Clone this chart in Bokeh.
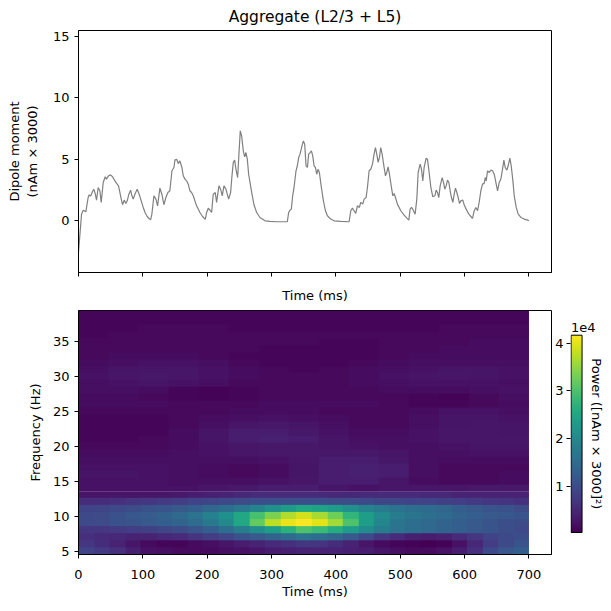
import numpy as np
from bokeh.plotting import figure
from bokeh.layouts import column, row
from bokeh.models import LinearColorMapper, Range1d, FixedTicker, Label
from bokeh.palettes import Viridis256
from bokeh.embed import file_html
from bokeh.resources import INLINE

FONT = "DejaVu Sans"

# aggregate dipole trace (ms, nAm x 3000)
t_ms = [0, 3.1, 4.7, 7.3, 11.4, 15.0, 16.6, 18.7, 21.8, 23.8, 25.9, 28.0, 30.6, 33.2, 35.3,
        38.4, 41.5, 43.5, 46.7, 49.8, 52.9, 55.0, 58.1, 60.1, 62.2, 64.3, 66.4, 68.4, 71.0,
        73.6, 75.7, 78.3, 80.9, 83.0, 85.0, 88.1, 91.2, 94.3, 97.5, 100.6, 103.7, 106.8,
        109.9, 112.0, 114.0, 117.2, 120.3, 122.9, 126.5, 129.6, 132.7, 135.8, 138.9, 142.0,
        145.2, 148.3, 149.8, 152.4, 155.0, 157.6, 160.7, 162.8, 165.4, 168.0, 170.6, 173.1,
        175.7, 178.3, 183.5, 188.7, 192.8, 197.0, 199.1, 201.7, 204.3, 206.8, 209.4, 212.5,
        214.6, 218.2, 220.8, 223.4, 226.0, 229.1, 233.3, 236.4, 238.5, 240.5, 242.6, 244.7,
        247.3, 249.3, 251.4, 253.5, 256.1, 258.2, 260.2, 262.3, 264.4, 266.5, 269.6, 272.7,
        276.8, 282.0, 289.8, 297.6, 307.9, 324.5, 326.6, 328.7, 330.7, 332.8, 334.9, 338.0,
        340.1, 342.1, 344.2, 347.3, 349.4, 351.5, 353.6, 355.7, 357.7, 359.8, 361.9, 364.0,
        366.0, 368.1, 370.2, 372.3, 374.3, 377.4, 380.6, 383.7, 386.8, 392.0, 397.1, 407.5,
        420.5, 423.1, 425.7, 428.2, 430.8, 433.4, 436.5, 438.6, 441.7, 443.8, 446.9, 449.0,
        451.6, 454.2, 456.8, 459.3, 461.4, 463.5, 465.6, 467.6, 469.7, 471.8, 474.9, 477.0,
        479.0, 481.1, 483.2, 486.3, 488.4, 490.5, 492.5, 495.6, 500.8, 506.0, 510.2, 513.3,
        515.3, 517.4, 519.5, 523.1, 525.7, 527.8, 530.9, 533.0, 535.0, 537.1, 540.2, 542.3,
        544.9, 547.5, 550.6, 553.7, 555.8, 557.8, 559.9, 562.0, 565.1, 567.2, 569.2, 571.3,
        573.4, 575.5, 577.5, 579.6, 581.7, 583.8, 585.8, 587.9, 590.0, 592.1, 594.1, 597.2,
        599.3, 602.4, 606.6, 609.7, 612.3, 614.9, 617.5, 620.1, 622.6, 625.2, 627.8, 630.4,
        632.0, 633.5, 635.6, 638.2, 640.8, 643.4, 646.0, 649.1, 651.2, 653.8, 656.3, 658.9,
        661.0, 663.1, 665.7, 667.7, 670.3, 672.4, 675.0, 677.1, 680.2, 683.3, 687.4, 692.6,
        697.8, 700.0]
dipole = [-2.6, -0.57, 0.51, 0.84, 0.70, 1.87, 2.09, 1.98, 2.36, 2.55, 2.20, 1.66, 2.69, 2.42, 1.47,
          3.10, 3.56, 3.37, 3.64, 3.72, 3.56, 3.37, 3.10, 2.96, 2.82, 2.28, 1.74, 1.28, 1.66,
          1.38, 1.60, 2.14, 2.47, 2.01, 1.74, 2.20, 2.55, 2.14, 1.60, 1.06, 0.60, 0.32,
          0.13, 0.05, 0.51, 2.01, 1.74, 1.19, 2.63, 2.14, 1.28, 1.87, 2.28, 2.42,
          4.05, 4.32, 4.92, 5.00, 4.64, 4.86, 4.32, 3.64, 3.37, 3.23, 2.96, 2.42,
          2.28, 2.01, 1.19, 0.65, 0.32, 0.08, 0.65, 1.00, 0.84, 0.65, 2.14, 2.28,
          1.47, 2.82, 2.55, 2.01, 2.82, 2.55, 1.74, 2.28, 3.64, 4.72, 4.92, 4.18,
          3.50, 5.41, 7.31, 6.90, 5.68, 5.19, 5.54, 5.00, 3.77, 3.10, 2.14, 1.28,
          0.65, 0.24, -0.03, -0.08, -0.11, -0.11, 0.65, 0.84, 0.92, 2.01, 2.69, 4.05,
          4.46, 5.13, 5.41, 6.08, 6.49, 6.22, 4.46, 4.32, 5.41, 5.54, 5.68, 5.27,
          4.46, 4.32, 3.77, 4.18, 3.91, 2.69, 1.60, 0.79, 0.38, 0.11, -0.03, -0.08,
          -0.11, 0.79, 1.00, 0.79, 0.57, 1.19, 1.06, 1.47, 1.33, 1.74, 1.87, 2.69,
          4.05, 4.18, 4.59, 5.41, 5.95, 5.41, 4.73, 5.13, 5.95, 5.41, 4.32, 3.64,
          3.91, 4.37, 3.77, 2.69, 2.01, 2.20, 1.87, 1.33, 0.79, 0.43, 0.19, 0.03,
          0.92, 1.06, 0.92, 0.51, 1.74, 3.91, 4.59, 4.18, 3.23, 4.32, 5.08, 5.00,
          3.91, 2.69, 1.93, 2.01, 2.47, 2.28, 1.87, 2.82, 3.50, 3.10, 2.55, 2.82,
          3.29, 3.10, 2.42, 1.87, 1.47, 2.14, 2.63, 2.28, 1.87, 1.38, 1.60, 1.66,
          1.28, 0.92, 0.51, 0.32, 0.16, 0.79, 1.06, 0.79, 1.47, 2.42, 2.96, 3.02,
          3.50, 3.23, 4.05, 3.91, 4.10, 4.05, 3.77, 2.96, 2.42, 3.10, 3.37, 4.18,
          4.92, 4.32, 4.10, 4.46, 5.08, 4.46, 3.23, 2.01, 1.06, 0.51, 0.24, 0.11,
          0.03, -0.03]

# spectrogram, power in units of 1e4 (nAm x 3000)^2, one row per frequency
# 5-13 Hz read every 25 ms (the bright alpha band), 14-39 Hz every 50 ms
low_freqs = list(range(5, 14))
power_low = [
    [0.86, 0.73, 0.61, 0.40, 0.24, 0.20, 0.15, 0.15, 0.15, 0.20, 0.24, 0.28, 0.36, 0.40, 0.44,
     0.44, 0.44, 0.40, 0.36, 0.28, 0.20, 0.15, 0.15, 0.24, 0.36, 0.61, 0.94, 1.15, 1.27],  # 5 Hz
    [0.69, 0.57, 0.44, 0.28, 0.15, 0.11, 0.11, 0.15, 0.20, 0.28, 0.36, 0.44, 0.53, 0.61, 0.69,
     0.65, 0.57, 0.44, 0.28, 0.15, 0.11, 0.07, 0.03, 0.07, 0.24, 0.49, 0.78, 0.94, 1.11],  # 6
    [0.61, 0.53, 0.49, 0.44, 0.44, 0.49, 0.53, 0.65, 0.78, 0.90, 1.07, 1.19, 1.35, 1.48, 1.60,
     1.52, 1.40, 1.19, 0.94, 0.69, 0.53, 0.40, 0.36, 0.40, 0.53, 0.69, 0.86, 0.94, 1.02],  # 7
    [0.69, 0.69, 0.73, 0.78, 0.82, 0.90, 0.98, 1.11, 1.27, 1.52, 1.77, 2.06, 2.35, 2.68, 3.01,
     2.85, 2.60, 2.31, 2.02, 1.77, 1.60, 1.52, 1.44, 1.35, 1.27, 1.19, 1.11, 1.02, 0.94],  # 8
    [0.94, 0.98, 1.07, 1.11, 1.19, 1.27, 1.35, 1.48, 1.69, 1.98, 2.51, 3.18, 3.76, 4.05, 4.17,
     4.00, 3.59, 3.01, 2.35, 1.93, 1.64, 1.52, 1.44, 1.35, 1.27, 1.19, 1.11, 1.02, 0.98],  # 9
    [0.94, 0.98, 1.07, 1.15, 1.23, 1.31, 1.44, 1.60, 1.85, 2.10, 2.51, 2.97, 3.34, 3.67, 3.88,
     3.63, 3.26, 2.76, 2.35, 2.02, 1.77, 1.64, 1.56, 1.48, 1.35, 1.27, 1.19, 1.15, 1.11],  # 10
    [0.86, 0.90, 0.94, 0.98, 1.07, 1.11, 1.19, 1.27, 1.40, 1.52, 1.69, 1.89, 2.10, 2.31, 2.51,
     2.43, 2.31, 2.10, 1.89, 1.73, 1.60, 1.52, 1.48, 1.40, 1.27, 1.19, 1.11, 1.07, 0.98],  # 11
    [0.57, 0.57, 0.61, 0.65, 0.69, 0.73, 0.78, 0.86, 0.90, 0.94, 0.98, 1.02, 1.02, 1.02, 1.02,
     1.02, 0.98, 0.98, 0.94, 0.90, 0.90, 0.86, 0.86, 0.82, 0.78, 0.73, 0.69, 0.65, 0.61],  # 12
    [0.28, 0.28, 0.28, 0.28, 0.28, 0.28, 0.32, 0.36, 0.40, 0.44, 0.49, 0.53, 0.53, 0.53, 0.53,
     0.53, 0.49, 0.49, 0.53, 0.53, 0.53, 0.53, 0.49, 0.49, 0.44, 0.44, 0.44, 0.44, 0.44],  # 13
]
high_freqs = list(range(14, 40))
power_high = [
    [0.24, 0.24, 0.24, 0.24, 0.28, 0.32, 0.36, 0.36, 0.28, 0.24, 0.28, 0.28, 0.28, 0.32, 0.32],  # 14
    [0.24, 0.24, 0.24, 0.20, 0.20, 0.20, 0.24, 0.28, 0.34, 0.34, 0.28, 0.17, 0.13, 0.13, 0.17],  # 15
    [0.26, 0.26, 0.23, 0.20, 0.17, 0.13, 0.17, 0.26, 0.34, 0.40, 0.34, 0.20, 0.13, 0.13, 0.17],  # 16
    [0.23, 0.23, 0.23, 0.20, 0.17, 0.13, 0.17, 0.26, 0.34, 0.40, 0.34, 0.20, 0.13, 0.13, 0.13],  # 17
    [0.20, 0.20, 0.20, 0.20, 0.20, 0.20, 0.23, 0.28, 0.34, 0.36, 0.30, 0.20, 0.17, 0.17, 0.17],  # 18
    [0.17, 0.17, 0.17, 0.20, 0.23, 0.28, 0.30, 0.30, 0.30, 0.30, 0.26, 0.20, 0.20, 0.23, 0.23],  # 19
    [0.13, 0.13, 0.13, 0.17, 0.23, 0.28, 0.30, 0.30, 0.26, 0.23, 0.20, 0.20, 0.23, 0.26, 0.26],  # 20
    [0.10, 0.10, 0.13, 0.17, 0.26, 0.34, 0.40, 0.34, 0.26, 0.20, 0.20, 0.23, 0.28, 0.28, 0.28],  # 21
    [0.10, 0.10, 0.10, 0.17, 0.26, 0.34, 0.36, 0.30, 0.23, 0.17, 0.17, 0.23, 0.28, 0.28, 0.26],  # 22
    [0.10, 0.10, 0.10, 0.13, 0.20, 0.28, 0.30, 0.26, 0.20, 0.13, 0.13, 0.20, 0.26, 0.28, 0.26],  # 23
    [0.10, 0.10, 0.10, 0.13, 0.17, 0.20, 0.23, 0.20, 0.17, 0.13, 0.13, 0.20, 0.26, 0.26, 0.23],  # 24
    [0.13, 0.13, 0.13, 0.13, 0.13, 0.17, 0.17, 0.17, 0.13, 0.13, 0.13, 0.17, 0.23, 0.23, 0.20],  # 25
    [0.17, 0.17, 0.17, 0.13, 0.13, 0.13, 0.17, 0.17, 0.17, 0.17, 0.13, 0.10, 0.10, 0.13, 0.17],  # 26
    [0.17, 0.17, 0.13, 0.10, 0.07, 0.10, 0.13, 0.13, 0.13, 0.13, 0.13, 0.10, 0.07, 0.13, 0.20],  # 27
    [0.20, 0.20, 0.17, 0.10, 0.07, 0.10, 0.13, 0.13, 0.13, 0.13, 0.17, 0.17, 0.17, 0.20, 0.23],  # 28
    [0.20, 0.23, 0.26, 0.23, 0.20, 0.13, 0.13, 0.13, 0.13, 0.17, 0.20, 0.23, 0.23, 0.23, 0.20],  # 29
    [0.23, 0.28, 0.30, 0.28, 0.23, 0.17, 0.13, 0.13, 0.13, 0.17, 0.23, 0.26, 0.28, 0.26, 0.23],  # 30
    [0.20, 0.26, 0.28, 0.28, 0.23, 0.17, 0.13, 0.10, 0.13, 0.17, 0.20, 0.23, 0.26, 0.26, 0.23],  # 31
    [0.17, 0.20, 0.23, 0.23, 0.20, 0.13, 0.10, 0.10, 0.10, 0.13, 0.17, 0.20, 0.20, 0.20, 0.20],  # 32
    [0.13, 0.17, 0.17, 0.17, 0.13, 0.10, 0.10, 0.10, 0.10, 0.10, 0.13, 0.17, 0.17, 0.17, 0.17],  # 33
    [0.13, 0.13, 0.13, 0.13, 0.13, 0.13, 0.10, 0.10, 0.10, 0.10, 0.13, 0.13, 0.17, 0.17, 0.17],  # 34
    [0.13, 0.13, 0.13, 0.13, 0.13, 0.13, 0.13, 0.13, 0.10, 0.10, 0.13, 0.13, 0.13, 0.17, 0.17],  # 35
    [0.10, 0.13, 0.13, 0.13, 0.13, 0.13, 0.13, 0.13, 0.13, 0.13, 0.13, 0.13, 0.13, 0.13, 0.13],  # 36
    [0.10, 0.10, 0.13, 0.13, 0.13, 0.10, 0.10, 0.10, 0.10, 0.10, 0.10, 0.10, 0.13, 0.13, 0.13],  # 37
    [0.10, 0.10, 0.10, 0.10, 0.10, 0.10, 0.10, 0.10, 0.10, 0.10, 0.10, 0.10, 0.10, 0.10, 0.10],  # 38
    [0.10, 0.10, 0.10, 0.10, 0.10, 0.10, 0.10, 0.10, 0.10, 0.10, 0.10, 0.10, 0.10, 0.10, 0.10],  # 39
]
spec_t0, spec_t1 = 0, 700
p_low, p_high = 0.03, 4.17
power_ticks = [1, 2, 3, 4]
time_ticks = [0, 100, 200, 300, 400, 500, 600, 700]


def style(p):
    p.outline_line_color = "black"
    p.outline_line_width = 1
    p.grid.visible = False
    p.background_fill_color = "white"
    p.border_fill_color = "white"
    for ax in p.axis:
        ax.major_tick_in = 0
        ax.major_tick_out = 4
        ax.minor_tick_in = 0
        ax.minor_tick_out = 0
        ax.axis_line_color = "black"
        ax.major_tick_line_color = "black"
        ax.major_label_text_font = FONT
        ax.major_label_text_font_size = "13px"
        ax.major_label_text_color = "black"
        ax.axis_label_text_font = FONT
        ax.axis_label_text_font_size = "13px"
        ax.axis_label_text_font_style = "normal"
        ax.axis_label_text_color = "black"


# ---- top: dipole trace
top = figure(frame_width=473, frame_height=242, min_border_left=78, min_border_right=10,
             min_border_top=24, min_border_bottom=38,
             x_range=Range1d(0, 735), y_range=Range1d(-4.25, 15.5),
             title="Aggregate (L2/3 + L5)",
             output_backend="svg", toolbar_location=None)
top.line(t_ms, dipole, line_color="gray", line_width=1.2)
style(top)
top.title.align = "center"
top.title.text_font = FONT
top.title.text_font_size = "15.5px"
top.title.text_font_style = "normal"
top.title.text_color = "black"
top.xaxis.ticker = FixedTicker(ticks=time_ticks)
top.xaxis.major_label_overrides = {t: "" for t in time_ticks}
top.xaxis.major_label_standoff = 0
top.xaxis.axis_label = "Time (ms)"
top.xaxis.axis_label_standoff = 11
top.yaxis.ticker = FixedTicker(ticks=[0, 5, 10, 15])
top.yaxis.axis_label = "Dipole moment\n(nAm × 3000)"
top.yaxis.axis_label_standoff = 10

# ---- bottom: spectrogram
mapper = LinearColorMapper(palette=Viridis256, low=p_low, high=p_high)
bottom = figure(frame_width=473, frame_height=244, min_border_left=78, min_border_right=1,
                min_border_top=0, min_border_bottom=45,
                x_range=Range1d(0, 735), y_range=Range1d(4.5, 39.5),
                output_backend="svg", toolbar_location=None)
bottom.image(image=[np.array(power_low)], x=spec_t0, y=low_freqs[0] - 0.5,
             dw=spec_t1 - spec_t0, dh=len(low_freqs), color_mapper=mapper)
bottom.image(image=[np.array(power_high)], x=spec_t0, y=high_freqs[0] - 0.5,
             dw=spec_t1 - spec_t0, dh=len(high_freqs), color_mapper=mapper)
style(bottom)
bottom.xaxis.ticker = FixedTicker(ticks=time_ticks)
bottom.xaxis.major_label_standoff = 11
bottom.xaxis.axis_label = "Time (ms)"
bottom.xaxis.axis_label_standoff = 2
bottom.yaxis.ticker = FixedTicker(ticks=[5, 10, 15, 20, 25, 30, 35])
bottom.yaxis.axis_label = "Frequency (Hz)"
bottom.yaxis.axis_label_standoff = 7

# ---- colour bar: own figure, frame aligned with the spectrogram, bar 11 px wide at its left
bar_px = 11
cb_w = 34
px_per_unit = 197.3 / (p_high - p_low)
cb = figure(frame_width=cb_w, frame_height=244, min_border_left=18, min_border_right=1,
            min_border_top=0, min_border_bottom=45,
            x_range=Range1d(-0.05, -0.05 + cb_w / bar_px),
            y_range=Range1d(p_low - 22 / px_per_unit, p_high + 24.7 / px_per_unit),
            output_backend="svg", toolbar_location=None)
ramp = np.linspace(p_low, p_high, 256).reshape(256, 1)
cb.image(image=[ramp], x=0, y=p_low, dw=1, dh=p_high - p_low, color_mapper=mapper)
cb.quad(left=0, right=1, bottom=p_low, top=p_high, fill_color=None,
        line_color="black", line_width=1)
cb.xaxis.visible = False
style(cb)
cb.outline_line_color = None
cb.yaxis.axis_line_color = None
cb.yaxis.ticker = FixedTicker(ticks=power_ticks)
cb.yaxis.major_label_standoff = 3
cb.add_layout(Label(x=0, y=p_high, y_offset=3, text="1e4", text_align="left",
                    text_baseline="bottom", text_font=FONT, text_font_size="13px",
                    text_color="black"))
cb.add_layout(Label(x=-0.05 + 25.5 / bar_px, y=(p_low + p_high) / 2, angle=-np.pi / 2,
                    text="Power ([nAm × 3000]²)", text_align="center",
                    text_baseline="middle", text_font=FONT, text_font_size="13px",
                    text_color="black"))

layout = column(top, row(bottom, cb))
open("out.html", "w").write(file_html(layout, INLINE))
